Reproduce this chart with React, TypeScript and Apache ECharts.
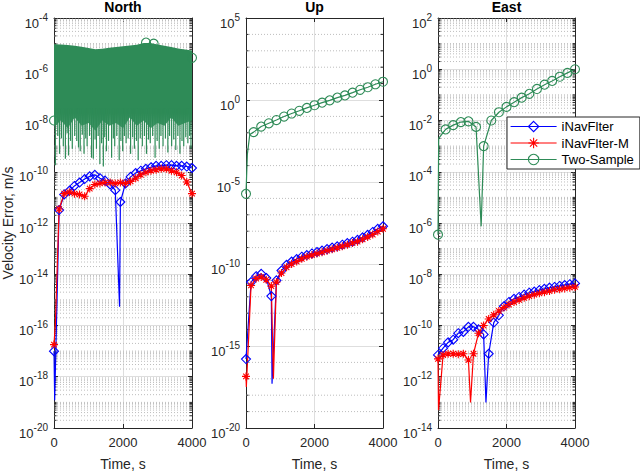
import React, { useEffect, useRef } from "react";
import * as echarts from "echarts";

const FONT = "'Liberation Sans', Arial, Helvetica, sans-serif";
const INK = "#262626";
const BLUE = "#0000ff";
const RED = "#ff0000";
const GREEN = "#2e8b57";
const ASTERISK = "path://M5 0L5 10M0 5L10 5M1.5 1.5L8.5 8.5M1.5 8.5L8.5 1.5";

// marker times (s)
const filterTimes = [0, 148, 296, 444, 592, 740, 888, 1036, 1184, 1332, 1480, 1628, 1776, 1924, 2072, 2220, 2368, 2516, 2664, 2812, 2960, 3108, 3256, 3404, 3552, 3700, 3848, 4000];
const twoSampleTimes = [0, 222, 444, 667, 889, 1111, 1333, 1556, 1778, 2000, 2222, 2444, 2667, 2889, 3111, 3333, 3556, 3778, 4000];

// North, m/s
const northFilter = [1.0e-17, 3.2e-12, 1.3e-11, 1.8e-11, 2.8e-11, 3.8e-11, 5.2e-11, 6.6e-11, 7.6e-11, 5.6e-11, 4.5e-11, 3.2e-11, 1.9e-11, 6.6e-12, 3.5e-11, 6.3e-11, 8.9e-11, 1.1e-10, 1.3e-10, 1.5e-10, 1.7e-10, 1.7e-10, 1.8e-10, 1.8e-10, 1.7e-10, 1.7e-10, 1.6e-10, 1.4e-10];
const northFilterDips: [number, number][] = [[20, 1.2e-19], [1900, 5.4e-16]];
const northFilterM = [1.8e-17, 3.5e-12, 1.4e-11, 1.6e-11, 1.4e-11, 1.3e-11, 1.1e-11, 2.2e-11, 3.2e-11, 3.5e-11, 3.8e-11, 3.8e-11, 3.5e-11, 3.8e-11, 3.5e-11, 4.2e-11, 5.6e-11, 7.6e-11, 9.5e-11, 1.1e-10, 1.2e-10, 1.3e-10, 1.3e-10, 1.1e-10, 9.5e-11, 7.1e-11, 4.0e-11, 1.4e-11];
const northFilterMDips: [number, number][] = [[40, 1.2e-16]];
const northTwoSampleTimes = [0, 2667, 2889, 4000];
const northTwoSample = [1.0e-8, 1.1e-5, 1.0e-5, 2.8e-6];
const northNoiseTimes = [0, 200, 400, 600, 800, 1000, 1200, 1400, 1600, 1800, 2000, 2200, 2400, 2600, 2800, 3000, 3200, 3400, 3600, 3800, 4000];
const northNoiseTop = [9.5e-6, 9.3e-6, 8.9e-6, 8.3e-6, 7.6e-6, 6.8e-6, 6.0e-6, 6.3e-6, 6.9e-6, 7.4e-6, 7.9e-6, 8.5e-6, 9.1e-6, 1.05e-5, 1.05e-5, 9.3e-6, 8.3e-6, 7.4e-6, 6.5e-6, 5.9e-6, 5.4e-6];
const northNoiseBottom = [6.3e-9, 1.0e-8, 5.0e-9, 1.3e-8, 6.3e-9, 7.9e-9, 4.0e-9, 1.0e-8, 6.3e-9, 7.9e-9, 5.0e-9, 1.3e-8, 6.3e-9, 1.0e-8, 5.0e-9, 7.9e-9, 6.3e-9, 1.3e-8, 6.3e-9, 7.9e-9, 1.0e-8];
const northSpikeTimes = [40, 110, 160, 215, 270, 330, 380, 420, 480, 530, 600, 660, 710, 760, 820, 870, 920, 960, 1030, 1090, 1140, 1190, 1230, 1280, 1330, 1380, 1430, 1470, 1520, 1580, 1670, 1720, 1760, 1820, 1890, 1940, 1990, 2040, 2090, 2150, 2220, 2280, 2330, 2390, 2440, 2500, 2560, 2620, 2680, 2740, 2790, 2860, 2930, 2990, 3050, 3100, 3160, 3230, 3300, 3350, 3410, 3470, 3530, 3590, 3650, 3710, 3760, 3820, 3880, 3930, 3970];
const northSpikeLows = [1.8e-10, 2.5e-9, 5.0e-10, 2.0e-9, 1.0e-9, 3.2e-10, 3.2e-9, 4.3e-10, 1.6e-9, 7.9e-10, 2.5e-9, 1.6e-9, 8.9e-10, 6.3e-10, 2.8e-9, 5.0e-10, 2.0e-9, 1.0e-9, 2.5e-9, 3.5e-10, 3.2e-10, 1.8e-9, 7.9e-10, 2.5e-9, 2.0e-10, 1.3e-9, 1.6e-10, 2.2e-9, 6.3e-10, 1.6e-9, 3.5e-10, 2.0e-9, 1.0e-9, 2.5e-9, 2.8e-10, 1.6e-9, 6.3e-10, 2.5e-9, 1.3e-9, 2.0e-9, 5.0e-10, 2.2e-9, 7.9e-10, 1.6e-9, 2.8e-10, 2.0e-9, 1.0e-9, 2.5e-9, 5.0e-10, 1.8e-9, 1.3e-9, 2.5e-9, 3.5e-10, 1.6e-9, 7.9e-10, 2.5e-9, 1.0e-9, 2.0e-9, 5.6e-10, 2.5e-9, 1.0e-9, 1.8e-9, 7.1e-10, 2.5e-9, 5.0e-10, 1.6e-9, 1.0e-9, 2.2e-9, 1.3e-9, 2.5e-9, 7.9e-10];

// Up, m/s
const upFilter = [1.6e-16, 7.9e-12, 1.8e-11, 2.5e-11, 1.4e-11, 1.1e-12, 1.0e-11, 4.0e-11, 8.9e-11, 1.4e-10, 2.0e-10, 2.8e-10, 3.5e-10, 4.4e-10, 5.4e-10, 6.6e-10, 8.1e-10, 1.0e-9, 1.2e-9, 1.5e-9, 1.9e-9, 2.3e-9, 3.0e-9, 4.2e-9, 6.0e-9, 9.0e-9, 1.4e-8, 2.0e-8];
const upFilterDips: [number, number][] = [[760, 5.0e-18]];
const upFilterM = [1.4e-17, 5.0e-12, 1.3e-11, 1.6e-11, 1.1e-11, 4.5e-12, 7.9e-12, 2.8e-11, 6.3e-11, 1.0e-10, 1.4e-10, 2.1e-10, 2.8e-10, 3.5e-10, 4.3e-10, 5.2e-10, 6.5e-10, 7.9e-10, 9.8e-10, 1.2e-9, 1.5e-9, 1.9e-9, 2.3e-9, 3.2e-9, 4.5e-9, 6.3e-9, 9.5e-9, 1.4e-8];
const upFilterMDips: [number, number][] = [[10, 3.2e-18], [800, 1.0e-17]];
const upTwoSample = [1.9e-6, 1.1e-2, 2.4e-2, 3.8e-2, 6.0e-2, 9.8e-2, 0.15, 0.22, 0.33, 0.48, 0.69, 0.95, 1.4, 1.9, 2.8, 4.2, 6.0, 9.1, 13];
const upTwoSampleExtra: [number, number][] = [[40, 5.0e-4], [110, 7.8e-3]];

// East, m/s
const eastFilter = [7.1e-12, 1.3e-11, 2.2e-11, 2.8e-11, 5.0e-11, 5.6e-11, 8.9e-11, 8.9e-11, 7.1e-11, 4.5e-11, 7.9e-12, 1.3e-10, 2.5e-10, 5.6e-10, 8.3e-10, 1.1e-9, 1.3e-9, 1.6e-9, 1.9e-9, 2.1e-9, 2.4e-9, 2.7e-9, 3.0e-9, 3.2e-9, 3.5e-9, 3.8e-9, 4.1e-9, 4.4e-9];
const eastFilterDips: [number, number][] = [[1400, 1.0e-13]];
const eastFilterM = [5.0e-12, 7.1e-12, 7.9e-12, 7.9e-12, 7.6e-12, 7.9e-12, 4.5e-12, 7.9e-12, 5.0e-11, 1.0e-10, 1.8e-10, 2.6e-10, 3.7e-10, 5.0e-10, 6.6e-10, 8.3e-10, 1.0e-9, 1.2e-9, 1.4e-9, 1.6e-9, 1.8e-9, 2.0e-9, 2.2e-9, 2.5e-9, 2.6e-9, 2.8e-9, 3.0e-9, 3.2e-9];
const eastFilterMDips: [number, number][] = [[15, 5.0e-14], [950, 1.0e-13]];
const eastTwoSample = [3.5e-7, 4.5e-3, 6.6e-3, 8.7e-3, 9.3e-3, 5.6e-3, 1.0e-3, 1.0e-2, 2.1e-2, 3.4e-2, 5.2e-2, 7.8e-2, 0.11, 0.17, 0.25, 0.35, 0.51, 0.72, 1.0];
const eastTwoSampleExtra: [number, number][] = [[20, 2.0e-3], [1260, 7.4e-7]];

// tick labels
const timeTicks = [0, 2000, 4000];
const northTicks = [1e-20, 1e-18, 1e-16, 1e-14, 1e-12, 1e-10, 1e-8, 1e-6, 1e-4];
const upTicks = [1e-20, 1e-15, 1e-10, 1e-5, 1, 1e5];
const eastTicks = [1e-14, 1e-12, 1e-10, 1e-8, 1e-6, 1e-4, 1e-2, 1, 1e2];

// dotted minor grid levels of a log axis
const minorLevels = (lo: number, hi: number, major: number, fine: boolean) => {
  const out: number[] = [];
  for (let e = lo; e < hi; e++) {
    if ((e - lo) % major !== 0) out.push(Number(`1e${e}`));
    if (fine) for (let m = 2; m <= 9; m++) out.push(Number(`${m}e${e}`));
  }
  return out;
};

const panels = [
  { title: "North", left: 54, width: 138, min: 1e-20, max: 1e-4, ticks: northTicks, minor: minorLevels(-20, -4, 2, true) },
  { title: "Up", left: 246, width: 137, min: 1e-20, max: 1e5, ticks: upTicks, minor: minorLevels(-20, 5, 5, false) },
  { title: "East", left: 438, width: 137, min: 1e-14, max: 1e2, ticks: eastTicks, minor: minorLevels(-14, 2, 2, true) },
];
const TOP = 18;
const HEIGHT = 417;

const lineData = (times: number[], values: number[], extra: [number, number][] = []) => {
  const pts: any[] = times.map((t, i) => ({ value: [t, values[i]] }));
  extra.forEach(([t, v]) => pts.push({ value: [t, v], symbol: "none" }));
  return pts.sort((a, b) => a.value[0] - b.value[0]);
};

const look: Record<string, { color: string; symbol: string; size: number }> = {
  iNavFlter: { color: BLUE, symbol: "diamond", size: 9 },
  "iNavFlter-M": { color: RED, symbol: ASTERISK, size: 8 },
  "Two-Sample": { color: GREEN, symbol: "circle", size: 9 },
};

const lineSeries = (name: string, panel: number, data: any[], lineWidth = 1.2) => ({
  type: "line",
  name,
  xAxisIndex: panel * 2,
  yAxisIndex: panel * 2,
  data,
  symbol: look[name].symbol,
  symbolSize: look[name].size,
  showAllSymbol: true,
  silent: true,
  z: 3,
  lineStyle: { color: look[name].color, width: lineWidth },
  itemStyle: { color: "rgba(0,0,0,0)", borderColor: look[name].color, borderWidth: 1.1 },
});

const minorGridSeries = (panel: number) => ({
  type: "custom",
  name: `minor-grid-${panel}`,
  xAxisIndex: panel * 2,
  yAxisIndex: panel * 2,
  silent: true,
  z: 1,
  data: panels[panel].minor.map((v) => [0, v]),
  renderItem: (_params: any, api: any) => {
    const v = api.value(1);
    const a = api.coord([0, v]);
    const b = api.coord([4000, v]);
    return {
      type: "group",
      children: [
        { type: "line", shape: { x1: a[0], y1: a[1], x2: b[0], y2: b[1] }, style: { stroke: "#bdbdbd", lineWidth: 1, lineDash: [1, 2] } },
        { type: "line", shape: { x1: a[0], y1: a[1], x2: a[0] + 2.5, y2: a[1] }, style: { stroke: INK, lineWidth: 1 } },
        { type: "line", shape: { x1: b[0] - 2.5, y1: b[1], x2: b[0], y2: b[1] }, style: { stroke: INK, lineWidth: 1 } },
      ],
    };
  },
});

const noiseFill = new echarts.graphic.LinearGradient(0, 0, 0, 1, [
  { offset: 0, color: GREEN },
  { offset: 0.8, color: GREEN },
  { offset: 1, color: "#4f9d72" },
]);

const buildOption = () => {
  const xAxis: any[] = [];
  const yAxis: any[] = [];
  panels.forEach((p, i) => {
    const tick = { show: true, inside: true, length: 4, lineStyle: { color: INK } };
    const line = { show: true, onZero: false, lineStyle: { color: INK, width: 1 } };
    xAxis.push({
      type: "value", gridIndex: i, min: 0, max: 4000, interval: 2000, position: "bottom",
      axisLine: line, axisTick: tick,
      axisLabel: {
        customValues: timeTicks, fontSize: 13, color: INK, margin: 8, fontFamily: FONT,
        formatter: (v: number) => String(v),
      },
      splitLine: { show: true, lineStyle: { color: "#dedede", width: 1 } },
      name: "Time, s", nameLocation: "middle", nameGap: 29,
      nameTextStyle: { fontSize: 14, color: INK, fontFamily: FONT },
    });
    xAxis.push({
      type: "value", gridIndex: i, min: 0, max: 4000, interval: 2000, position: "top",
      axisLine: line, axisTick: tick, axisLabel: { show: false }, splitLine: { show: false },
    });
    yAxis.push({
      type: "log", logBase: 10, gridIndex: i, min: p.min, max: p.max, position: "left",
      axisLine: line,
      axisTick: { ...tick, customValues: p.ticks },
      axisLabel: {
        customValues: p.ticks,
        margin: 6,
        fontFamily: FONT,
        formatter: (v: number) => `{b|10}{s|${Math.round(Math.log10(v))}}`,
        rich: {
          b: { fontSize: 13, color: INK, fontFamily: FONT, padding: [10, 0, 0, 0] },
          s: { fontSize: 10, color: INK, fontFamily: FONT, padding: [5.5, 0, 0, 0], verticalAlign: "top" },
        },
      },
      splitLine: { show: true, lineStyle: { color: "#dedede", width: 1 } },
      ...(i === 0
        ? {
            name: "Velocity Error, m/s", nameLocation: "middle", nameGap: 35, nameRotate: 90,
            nameTextStyle: { fontSize: 14, color: INK, fontFamily: FONT },
          }
        : {}),
    });
    yAxis.push({
      type: "log", logBase: 10, gridIndex: i, min: p.min, max: p.max, position: "right",
      axisLine: line, axisTick: { ...tick, customValues: p.ticks },
      axisLabel: { show: false }, splitLine: { show: false },
    });
  });

  const series: any[] = [
    // Up
    lineSeries("iNavFlter", 1, lineData(filterTimes, upFilter, upFilterDips)),
    lineSeries("iNavFlter-M", 1, lineData(filterTimes, upFilterM, upFilterMDips)),
    lineSeries("Two-Sample", 1, lineData(twoSampleTimes, upTwoSample, upTwoSampleExtra)),
    // East
    lineSeries("iNavFlter", 2, lineData(filterTimes, eastFilter, eastFilterDips)),
    lineSeries("iNavFlter-M", 2, lineData(filterTimes, eastFilterM, eastFilterMDips)),
    lineSeries("Two-Sample", 2, lineData(twoSampleTimes, eastTwoSample, eastTwoSampleExtra)),
    // North
    lineSeries("iNavFlter", 0, lineData(filterTimes, northFilter, northFilterDips)),
    lineSeries("iNavFlter-M", 0, lineData(filterTimes, northFilterM, northFilterMDips)),
    {
      type: "custom",
      name: "north-noise",
      xAxisIndex: 0,
      yAxisIndex: 0,
      silent: true,
      z: 4,
      data: [[0, northNoiseTop[0]]],
      renderItem: (_params: any, api: any) => {
        const pts: number[][] = [];
        northNoiseTimes.forEach((t, i) => pts.push(api.coord([t, northNoiseTop[i]])));
        for (let i = northNoiseTimes.length - 1; i >= 0; i--) pts.push(api.coord([northNoiseTimes[i], northNoiseBottom[i]]));
        return { type: "polygon", shape: { points: pts }, style: { fill: noiseFill } };
      },
    },
    {
      type: "custom",
      name: "north-noise-spikes",
      xAxisIndex: 0,
      yAxisIndex: 0,
      silent: true,
      z: 4,
      data: northSpikeTimes.map((t, i) => [t, northSpikeLows[i]]),
      renderItem: (_params: any, api: any) => {
        const t = api.value(0);
        const a = api.coord([t, 3e-8]);
        const b = api.coord([t, api.value(1)]);
        return { type: "line", shape: { x1: a[0], y1: a[1], x2: b[0], y2: b[1] }, style: { stroke: GREEN, lineWidth: 1.2 } };
      },
    },
    {
      ...lineSeries("Two-Sample", 0, lineData(northTwoSampleTimes, northTwoSample)),
      lineStyle: { width: 0, opacity: 0 },
      z: 5,
    },
    minorGridSeries(0),
    minorGridSeries(1),
    minorGridSeries(2),
  ];

  return {
    animation: false,
    backgroundColor: "#fff",
    textStyle: { fontFamily: FONT },
    title: panels.map((p) => ({
      text: p.title,
      left: p.left + p.width / 2,
      top: 0,
      padding: 0,
      textAlign: "center",
      textStyle: { fontSize: 14, fontWeight: "bold", color: "#000", fontFamily: FONT },
    })),
    grid: panels.map((p) => ({ left: p.left, top: TOP, width: p.width, height: HEIGHT, containLabel: false })),
    xAxis,
    yAxis,
    legend: {
      left: 507,
      top: 117,
      orient: "vertical",
      itemWidth: 46,
      itemHeight: 13,
      itemGap: 3.5,
      padding: [3, 6, 3, 3],
      borderColor: INK,
      borderWidth: 1,
      borderRadius: 0,
      backgroundColor: "#fff",
      selectedMode: false,
      textStyle: { fontSize: 13, color: "#000", fontFamily: FONT },
      data: Object.keys(look).map((name) => ({
        name,
        itemStyle: { color: "rgba(0,0,0,0)", borderColor: look[name].color, borderWidth: 1.1 },
        lineStyle: { color: look[name].color, width: 1.2 },
      })),
    },
    series,
  };
};

export default function App() {
  const chartRef = useRef<HTMLDivElement>(null);
  useEffect(() => {
    if (!chartRef.current) return;
    const chart = echarts.init(chartRef.current, undefined, { renderer: "svg" });
    chart.setOption(buildOption() as any);
    return () => chart.dispose();
  }, []);
  return (
    <div
      ref={chartRef}
      style={{ position: "absolute", left: 0, top: 0, width: 640, height: 476, background: "#fff" }}
    />
  );
}
